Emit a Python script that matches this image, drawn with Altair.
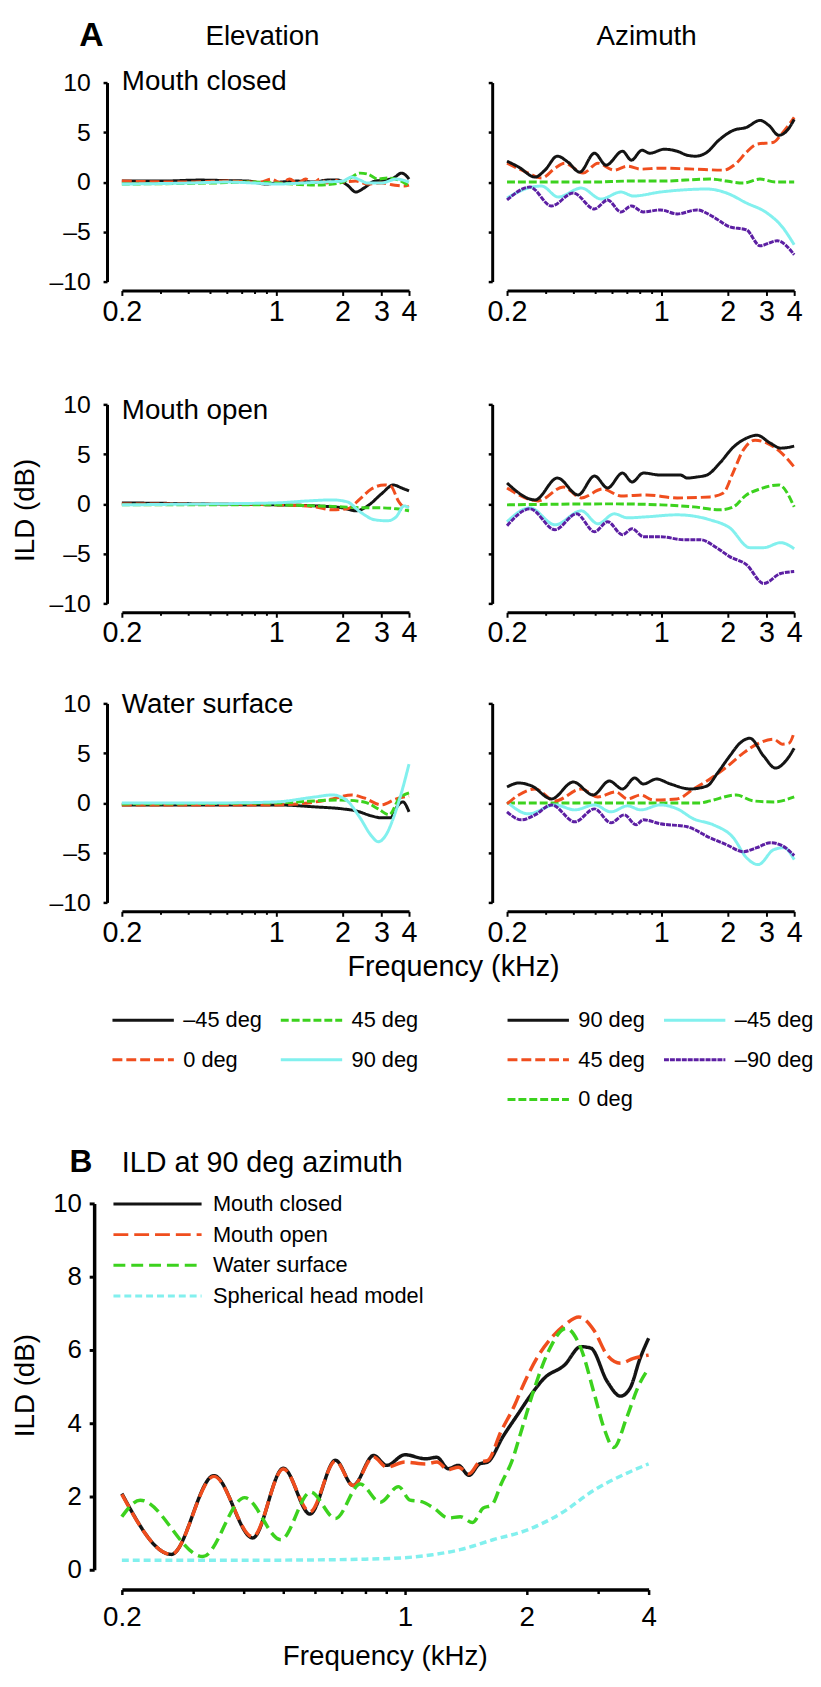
import altair as alt
import pandas as pd

FONT = "Liberation Sans"
BLACK = "#141414"
ORANGE = "#F04E1E"
GREEN = "#3CD21E"
CYAN = "#82F0EE"
PURPLE = "#5C1FA3"

FREQ_TICKS = [0.2, 0.3, 0.4, 0.5, 0.6, 0.7, 0.8, 0.9, 1, 2, 3, 4]
ILD_TICKS_A = [-10, -5, 0, 5, 10]
ILD_TICKS_B = [0, 2, 4, 6, 8, 10]

# legend entries run down each column first
ELEV_ORDER = ["–45 deg", "0 deg", "45 deg", "90 deg"]
ELEV_COLORS = [BLACK, ORANGE, GREEN, CYAN]
ELEV_DASHES = [[1, 0], [10, 4], [8, 3], [1, 0]]
AZIM_ORDER = ["90 deg", "45 deg", "0 deg", "–45 deg", "–90 deg"]
AZIM_COLORS = [BLACK, ORANGE, GREEN, CYAN, PURPLE]
AZIM_DASHES = [[1, 0], [10, 4], [8, 3], [1, 0], [5, 1]]
B_ORDER = ["Mouth closed", "Mouth open", "Water surface", "Spherical head model"]
B_COLORS = [BLACK, ORANGE, GREEN, CYAN]
B_DASHES = [[1, 0], [15, 6], [12, 6], [7, 4]]

# ---- Panel A, elevation (freq kHz, ILD dB) ----
el_closed_m45 = [(0.2, 0.1), (0.3, 0.1), (0.45, 0.2), (0.6, 0.15), (0.75, 0.1), (0.9, -0.2), (1.05, 0.0), (1.25, 0.1), (1.5, 0.0), (1.7, 0.2), (1.9, 0.2), (2.1, -0.3), (2.3, -1.0), (2.5, -0.6), (2.8, 0.1), (3.1, 0.2), (3.4, 0.4), (3.7, 0.9), (3.9, 0.6), (4.0, 0.3)]
el_closed_0 = [(0.2, 0.1), (0.4, 0.0), (0.6, 0.1), (0.85, 0.0), (0.95, 0.3), (1.05, -0.1), (1.15, 0.3), (1.25, -0.1), (1.36, 0.3), (1.47, -0.1), (1.58, 0.3), (1.7, -0.1), (1.82, 0.2), (2.0, 0.0), (2.3, 0.1), (2.6, -0.2), (3.0, -0.1), (3.4, -0.3), (3.8, -0.4), (4.0, -0.3)]
el_closed_45 = [(0.2, -0.2), (0.5, -0.1), (0.8, 0.0), (1.0, -0.1), (1.2, -0.2), (1.5, -0.3), (1.8, -0.2), (2.0, 0.0), (2.2, 0.5), (2.4, 0.9), (2.6, 0.8), (2.9, 0.3), (3.2, 0.4), (3.6, 0.2), (4.0, -0.4)]
el_closed_90 = [(0.2, -0.2), (0.4, -0.1), (0.6, 0.0), (0.8, -0.1), (1.0, -0.2), (1.3, -0.1), (1.6, 0.0), (2.0, 0.1), (2.2, 0.5), (2.4, 0.2), (2.6, -0.1), (3.0, -0.1), (3.5, 0.3), (4.0, 0.0)]

el_open_m45 = [(0.2, 0.1), (0.5, 0.0), (1.0, -0.1), (1.5, -0.2), (2.0, -0.4), (2.3, -0.7), (2.6, -0.2), (3.0, 1.0), (3.4, 1.9), (3.7, 1.6), (4.0, 1.3)]
el_open_0 = [(0.2, 0.0), (0.5, 0.0), (1.0, -0.1), (1.5, -0.3), (1.8, -0.6), (2.1, -0.5), (2.4, 0.5), (2.7, 1.5), (3.1, 1.9), (3.3, 1.8), (3.6, 0.2), (3.8, -0.3), (4.0, -0.3)]
el_open_45 = [(0.2, -0.1), (0.6, -0.1), (1.0, -0.1), (1.5, -0.2), (2.0, -0.3), (2.5, -0.4), (3.0, -0.4), (3.5, -0.5), (4.0, -0.7)]
el_open_90 = [(0.2, -0.1), (0.5, 0.0), (1.0, 0.1), (1.4, 0.3), (1.8, 0.4), (2.1, 0.2), (2.4, -0.8), (2.8, -1.6), (3.2, -1.7), (3.5, -1.3), (3.8, -0.2), (4.0, -0.4)]

el_water_m45 = [(0.2, -0.2), (0.5, -0.2), (1.0, -0.2), (1.5, -0.4), (2.0, -0.6), (2.3, -0.8), (2.7, -1.3), (3.0, -1.5), (3.3, -1.5), (3.55, -0.3), (3.75, 0.1), (4.0, -0.9)]
el_water_0 = [(0.2, -0.2), (1.0, -0.2), (1.4, 0.0), (1.8, 0.4), (2.2, 0.8), (2.5, 0.5), (3.0, -0.2), (3.5, 0.4), (4.0, 0.7)]
el_water_45 = [(0.2, -0.1), (1.0, 0.0), (1.5, 0.2), (1.9, 0.3), (2.5, 0.1), (2.9, -0.6), (3.25, -1.2), (3.6, 0.4), (4.0, 1.0)]
el_water_90 = [(0.2, 0.0), (0.6, 0.0), (1.0, 0.1), (1.5, 0.6), (1.8, 0.8), (2.1, 0.2), (2.4, -1.5), (2.7, -3.3), (2.9, -3.9), (3.15, -3.2), (3.4, -1.5), (3.65, 0.6), (4.0, 3.9)]

# ---- Panel A, azimuth ----
az_closed_90 = [(0.2, 2.1), (0.226, 1.5), (0.268, 0.5), (0.297, 1.2), (0.338, 2.6), (0.378, 2.0), (0.427, 1.0), (0.498, 2.9), (0.562, 1.7), (0.667, 3.1), (0.732, 2.2), (0.817, 3.2), (0.887, 2.9), (1.03, 3.3), (1.18, 3.1), (1.31, 2.7), (1.43, 2.6), (1.61, 3.0), (1.82, 4.2), (2.12, 5.2), (2.43, 5.5), (2.8, 6.2), (3.07, 5.7), (3.41, 4.7), (3.72, 5.2), (4.0, 6.3)]
az_closed_45 = [(0.2, 1.9), (0.25, 0.9), (0.287, 0.4), (0.33, 1.4), (0.365, 1.9), (0.442, 0.9), (0.516, 1.9), (0.612, 1.2), (0.703, 1.6), (0.807, 1.3), (0.99, 1.4), (1.4, 1.3), (1.91, 1.2), (2.19, 1.9), (2.43, 3.0), (2.71, 3.8), (3.23, 4.0), (3.47, 4.7), (4.0, 6.5)]
az_closed_0 = [(0.2, 0.0), (0.5, 0.0), (0.703, 0.1), (1.0, 0.1), (1.66, 0.3), (2.35, -0.1), (2.8, 0.3), (3.3, 0.0), (4.0, 0.0)]
az_closed_m45 = [(0.2, -1.6), (0.259, -0.5), (0.287, -0.4), (0.341, -1.5), (0.434, -0.6), (0.533, -1.7), (0.656, -1.0), (0.747, -1.4), (0.99, -1.0), (1.61, -0.7), (1.975, -1.1), (2.43, -2.1), (3.01, -3.1), (3.53, -4.5), (4.0, -6.3)]
az_closed_m90 = [(0.2, -1.8), (0.254, -0.5), (0.318, -2.4), (0.399, -1.1), (0.498, -2.7), (0.571, -1.8), (0.656, -3.0), (0.732, -2.4), (0.829, -3.0), (0.99, -2.8), (1.18, -3.2), (1.45, -2.8), (1.72, -3.5), (2.04, -4.5), (2.43, -4.8), (2.8, -6.4), (3.35, -5.9), (4.0, -7.3)]

az_open_90 = [(0.2, 2.1), (0.268, 0.4), (0.338, 2.6), (0.42, 0.9), (0.498, 2.8), (0.571, 1.6), (0.667, 3.1), (0.737, 2.2), (0.829, 3.1), (0.99, 2.9), (1.22, 2.9), (1.31, 2.6), (1.45, 2.7), (1.61, 2.9), (1.84, 4.1), (2.12, 5.7), (2.43, 6.6), (2.71, 6.9), (3.12, 6.1), (3.47, 5.6), (4.0, 5.8)]
az_open_45 = [(0.2, 1.6), (0.277, 0.3), (0.36, 1.7), (0.434, 0.6), (0.543, 1.5), (0.656, 0.8), (0.857, 0.9), (1.18, 0.6), (1.66, 0.7), (1.91, 1.1), (2.12, 3.2), (2.35, 5.4), (2.66, 6.4), (3.01, 6.1), (3.47, 5.2), (4.0, 3.7)]
az_open_0 = [(0.2, -0.1), (0.6, 0.0), (1.0, -0.1), (1.4, -0.3), (1.84, -0.6), (2.12, -0.3), (2.43, 0.9), (2.8, 1.5), (3.41, 1.9), (4.0, -0.3)]
az_open_m45 = [(0.2, -1.8), (0.254, -0.4), (0.33, -2.1), (0.434, -0.7), (0.516, -2.0), (0.612, -1.0), (0.703, -1.4), (0.857, -1.3), (1.18, -1.1), (1.66, -1.6), (2.04, -2.4), (2.52, -4.4), (2.91, -4.4), (3.47, -3.9), (4.0, -4.5)]
az_open_m90 = [(0.2, -2.2), (0.254, -0.5), (0.33, -2.6), (0.413, -1.0), (0.498, -2.8), (0.571, -1.8), (0.667, -3.1), (0.737, -2.5), (0.829, -3.3), (0.99, -3.3), (1.26, -3.6), (1.5, -3.6), (1.78, -4.4), (2.04, -5.3), (2.43, -6.1), (2.91, -8.0), (3.47, -7.0), (4.0, -6.8)]

az_water_90 = [(0.2, 1.6), (0.226, 2.0), (0.259, 1.7), (0.318, 0.4), (0.399, 2.1), (0.491, 0.8), (0.581, 2.2), (0.667, 1.4), (0.758, 2.5), (0.829, 1.9), (0.95, 2.4), (1.1, 1.9), (1.35, 1.4), (1.61, 1.7), (1.81, 3.1), (2.04, 4.7), (2.27, 6.0), (2.52, 6.5), (2.91, 4.7), (3.29, 3.5), (3.72, 4.4), (4.0, 5.5)]
az_water_45 = [(0.2, -0.1), (0.226, 0.8), (0.268, 1.4), (0.33, 0.2), (0.434, 1.4), (0.516, 0.6), (0.622, 1.1), (0.703, 0.4), (0.807, 0.8), (0.918, 0.3), (1.18, 0.4), (1.4, 1.4), (1.66, 2.4), (1.975, 3.6), (2.35, 5.0), (2.71, 5.9), (3.23, 6.4), (3.53, 5.9), (3.79, 6.0), (4.0, 7.1)]
az_water_0 = [(0.2, 0.0), (0.6, 0.0), (1.0, 0.0), (1.5, 0.0), (1.66, 0.2), (2.19, 0.8), (2.61, 0.2), (3.23, 0.1), (4.0, 0.6)]
az_water_m45 = [(0.2, 0.1), (0.25, -1.1), (0.33, -0.2), (0.406, -0.7), (0.498, -0.2), (0.591, -0.9), (0.703, -0.3), (0.807, -0.7), (0.99, -0.2), (1.18, -0.6), (1.4, -1.6), (1.72, -2.2), (2.12, -3.5), (2.43, -5.5), (2.75, -6.2), (3.23, -4.7), (3.59, -4.5), (4.0, -5.7)]
az_water_m90 = [(0.2, -0.9), (0.232, -1.7), (0.268, -1.2), (0.318, -0.2), (0.406, -1.9), (0.498, -0.6), (0.591, -2.0), (0.679, -1.2), (0.769, -2.2), (0.829, -1.7), (0.99, -2.1), (1.31, -2.4), (1.66, -3.5), (1.975, -4.2), (2.35, -4.9), (2.71, -4.5), (3.12, -4.0), (3.53, -4.3), (4.0, -5.3)]

# ---- Panel B, ILD at 90 deg azimuth ----
b_closed = [(0.2, 2.08), (0.265, 0.42), (0.3375, 2.57), (0.421, 0.87), (0.501, 2.77), (0.583, 1.52), (0.674, 2.99), (0.745, 2.3), (0.837, 3.12), (0.902, 2.85), (1.0, 3.14), (1.125, 3.03), (1.2, 3.07), (1.28, 2.76), (1.355, 2.85), (1.44, 2.58), (1.53, 2.89), (1.6, 2.94), (1.75, 3.65), (1.9, 4.24), (2.05, 4.78), (2.21, 5.23), (2.48, 5.59), (2.72, 6.09), (2.88, 6.05), (3.16, 5.14), (3.41, 4.74), (3.6, 4.96), (3.81, 5.77), (4.0, 6.32)]
b_open = [(0.2, 2.06), (0.265, 0.42), (0.3375, 2.55), (0.421, 0.9), (0.501, 2.75), (0.583, 1.58), (0.674, 2.97), (0.745, 2.3), (0.837, 3.08), (0.902, 2.8), (1.0, 2.94), (1.125, 2.89), (1.2, 2.94), (1.28, 2.73), (1.355, 2.8), (1.44, 2.62), (1.53, 2.94), (1.6, 2.98), (1.73, 3.79), (1.87, 4.51), (1.93, 4.87), (2.13, 5.82), (2.33, 6.4), (2.48, 6.68), (2.69, 6.9), (2.93, 6.54), (3.16, 5.86), (3.41, 5.64), (3.67, 5.77), (4.0, 5.86)]
b_water = [(0.2, 1.45), (0.222, 1.9), (0.317, 0.36), (0.402, 1.97), (0.494, 0.82), (0.585, 2.12), (0.674, 1.4), (0.776, 2.34), (0.869, 1.84), (0.964, 2.27), (1.03, 1.9), (1.1, 1.86), (1.18, 1.68), (1.28, 1.41), (1.37, 1.45), (1.47, 1.29), (1.56, 1.68), (1.64, 1.77), (1.73, 2.35), (1.84, 2.98), (1.95, 3.88), (2.09, 4.96), (2.26, 5.95), (2.5, 6.59), (2.72, 6.05), (2.94, 4.78), (3.1, 3.88), (3.28, 3.34), (3.53, 4.15), (3.77, 5.0), (4.0, 5.5)]
b_sphere = [(0.2, 0.26), (0.4, 0.26), (0.6, 0.27), (0.8, 0.29), (1.0, 0.33), (1.17, 0.41), (1.37, 0.55), (1.65, 0.82), (2.01, 1.09), (2.43, 1.54), (2.93, 2.17), (3.54, 2.64), (4.0, 2.89)]


def frame(named):
    rows = []
    for name, pts in named:
        for f, v in pts:
            rows.append({"freq": f, "ild": v, "series": name})
    return pd.DataFrame(rows)


def note(text, x, y, size, align="left", weight="normal", angle=0, baseline="alphabetic"):
    return alt.Chart(pd.DataFrame({"t": [text]})).mark_text(
        align=align, baseline=baseline, font=FONT, fontSize=size,
        fontWeight=weight, angle=angle, color="black"
    ).encode(text="t:N", x=alt.value(x), y=alt.value(y))


MAJOR_A = "datum.value < 0.25 || datum.value > 0.95"
MAJOR_B = "datum.value < 0.25 || datum.value == 1 || datum.value == 2 || datum.value == 4"


def panel_a(named, order, colors, dashes, left, notes, legend=None):
    df = frame(named)
    xaxis = alt.Axis(values=FREQ_TICKS, format="~g", labelExpr=f"({MAJOR_A}) ? datum.label : ''",
                     labelFlush=False, labelOverlap=False, labelFontSize=29, labelPadding=2,
                     tickSize={"condition": {"test": MAJOR_A, "value": 5}, "value": 3},
                     tickWidth=2, domainWidth=3, offset=9, title=None, grid=False)
    if left:
        yaxis = alt.Axis(values=ILD_TICKS_A, labelExpr="datum.value < 0 ? '–' + abs(datum.value) : datum.label",
                         labelFontSize=25, labelPadding=13, tickSize=4, tickWidth=2.5, domainWidth=3,
                         offset=15, title=None, grid=False)
    else:
        yaxis = alt.Axis(values=ILD_TICKS_A, labels=False, tickSize=4, tickWidth=2.5, domainWidth=3,
                         offset=15, title=None, grid=False)
    lines = alt.Chart(df).mark_line(strokeWidth=3, interpolate="monotone", strokeJoin="round").encode(
        x=alt.X("freq:Q", scale=alt.Scale(type="log", domain=[0.2, 4], nice=False), axis=xaxis),
        y=alt.Y("ild:Q", scale=alt.Scale(domain=[-10, 10], nice=False), axis=yaxis),
        color=alt.Color("series:N", scale=alt.Scale(domain=order, range=colors), legend=legend),
        strokeDash=alt.StrokeDash("series:N", scale=alt.Scale(domain=order, range=dashes), legend=legend),
    )
    return alt.layer(lines, *notes).properties(width=290, height=201)


def legend_a(x, y):
    return alt.Legend(orient="none", legendX=x, legendY=y, columns=2, columnPadding=17, rowPadding=2,
                      clipHeight=38, symbolType="stroke", symbolSize=3844, symbolStrokeWidth=3,
                      labelFont=FONT, labelFontSize=22, labelOffset=8, labelColor="black",
                      labelLimit=300, title=None, padding=0)


el1 = panel_a([("–45 deg", el_closed_m45), ("0 deg", el_closed_0), ("45 deg", el_closed_45), ("90 deg", el_closed_90)],
              ELEV_ORDER, ELEV_COLORS, ELEV_DASHES, True,
              [note("A", -43, -37, 34, weight="bold"), note("Elevation", 142, -38, 28, align="center"),
               note("Mouth closed", 0, 8, 28)])
az1 = panel_a([("0 deg", az_closed_0), ("–45 deg", az_closed_m45), ("–90 deg", az_closed_m90), ("45 deg", az_closed_45), ("90 deg", az_closed_90)],
              AZIM_ORDER, AZIM_COLORS, AZIM_DASHES, False,
              [note("Azimuth", 141, -38, 28, align="center")])
el2 = panel_a([("–45 deg", el_open_m45), ("0 deg", el_open_0), ("45 deg", el_open_45), ("90 deg", el_open_90)],
              ELEV_ORDER, ELEV_COLORS, ELEV_DASHES, True,
              [note("Mouth open", 0, 15, 28), note("ILD (dB)", -97, 107, 28, align="center", angle=270, baseline="middle")])
az2 = panel_a([("0 deg", az_open_0), ("–45 deg", az_open_m45), ("–90 deg", az_open_m90), ("45 deg", az_open_45), ("90 deg", az_open_90)],
              AZIM_ORDER, AZIM_COLORS, AZIM_DASHES, False, [])
el3 = panel_a([("–45 deg", el_water_m45), ("0 deg", el_water_0), ("45 deg", el_water_45), ("90 deg", el_water_90)],
              ELEV_ORDER, ELEV_COLORS, ELEV_DASHES, True,
              [note("Water surface", 0, 10, 28), note("Frequency (kHz)", 335, 266, 29, align="center", baseline="middle")],
              legend=legend_a(-11, 301))
az3 = panel_a([("0 deg", az_water_0), ("–45 deg", az_water_m45), ("–90 deg", az_water_m90), ("45 deg", az_water_45), ("90 deg", az_water_90)],
              AZIM_ORDER, AZIM_COLORS, AZIM_DASHES, False, [], legend=legend_a(-1, 301))

# ---- Panel B (plot is 532 px wide; its layout cell is kept to the column width) ----
dfb = frame([("Spherical head model", b_sphere), ("Mouth closed", b_closed), ("Mouth open", b_open), ("Water surface", b_water)])
legend_b = alt.Legend(orient="none", legendX=-10, legendY=-14, columns=1, rowPadding=2, clipHeight=29,
                      symbolType="stroke", symbolSize=7921, symbolStrokeWidth=3, labelFont=FONT,
                      labelFontSize=22, labelOffset=10, labelColor="black", labelLimit=400,
                      title=None, padding=0)
xaxis_b = alt.Axis(values=FREQ_TICKS, format="~g", labelExpr=f"({MAJOR_B}) ? datum.label : ''",
                   labelFlush=False, labelOverlap=False, labelFontSize=28, labelPadding=9,
                   tickSize={"condition": {"test": MAJOR_B, "value": 5}, "value": 4},
                   tickWidth=2.5, domainWidth=3.5, offset=20, title=None, grid=False)
yaxis_b = alt.Axis(values=ILD_TICKS_B, labelFontSize=26, labelPadding=8, tickSize=5, tickWidth=3,
                   domainWidth=3.5, offset=28, title=None, grid=False)
lines_b = alt.Chart(dfb).mark_line(strokeWidth=3.5, interpolate="monotone", strokeJoin="round").encode(
    x=alt.X("freq:Q", scale=alt.Scale(type="log", domain=[0.2, 4], nice=False, range=[0, 532]), axis=xaxis_b),
    y=alt.Y("ild:Q", scale=alt.Scale(domain=[0, 10], nice=False), axis=yaxis_b),
    color=alt.Color("series:N", scale=alt.Scale(domain=B_ORDER, range=B_COLORS), legend=legend_b),
    strokeDash=alt.StrokeDash("series:N", scale=alt.Scale(domain=B_ORDER, range=B_DASHES), legend=legend_b),
)
panel_b = alt.layer(
    lines_b,
    note("B", -53, -32, 32, weight="bold"),
    note("ILD at 90 deg azimuth", 0, -32, 29),
    note("ILD (dB)", -97, 184, 28, align="center", angle=270, baseline="middle"),
    note("Frequency (kHz)", 266, 466, 28, align="center"),
).properties(width=290, height=370)


def spacer(h):
    return alt.Chart(pd.DataFrame({"s": [0]})).mark_point(opacity=0).encode(
        x=alt.value(0), y=alt.value(0)).properties(width=1, height=h)


chart = alt.concat(
    el1, az1, spacer(124), spacer(124),
    el2, az2, spacer(101), spacer(101),
    el3, az3, spacer(304), spacer(304),
    panel_b,
    columns=2, spacing={"row": 0, "column": 99}, bounds="flush", align="each",
).resolve_scale(color="independent", strokeDash="independent").configure_view(stroke=None).configure_axis(
    domainColor="black", tickColor="black", labelColor="black", labelFont=FONT
).properties(
    autosize=alt.AutoSizeParams(type="none"),
    padding={"left": 115, "top": 67, "right": 698, "bottom": 1604},
)

chart.save("out.html", embed_options={"renderer": "svg", "actions": False})
